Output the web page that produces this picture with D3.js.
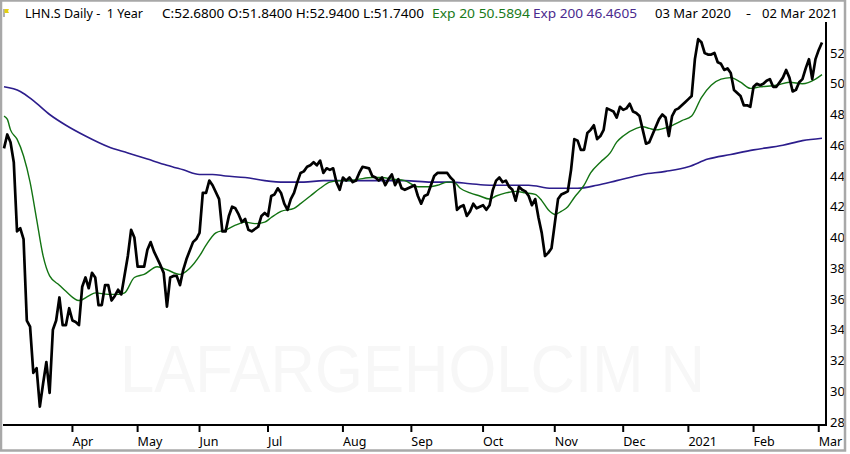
<!DOCTYPE html>
<html>
<head>
<meta charset="utf-8">
<script src="https://cdn.jsdelivr.net/npm/d3@7"></script>
<style>
  body { margin: 0; background: #fff; }
  svg { display: block; }
</style>
</head>
<body>
<div id="chart"></div>
<script>
// LHN.S daily closes, [trading day since 03 Mar 2020, close]
const closeSeries = [
  [0,45.8],[1,46.7],[2,46.2],[3,44.9],[4,40.4],[5,40.6],[6,39.9],[7,34.6],[8,34.2],[9,31.2],
  [10,31.5],[11,29.0],[12,30.5],[13,31.9],[14,29.9],[15,34.0],[16,34.6],[17,36.1],[18,34.3],[19,34.3],
  [20,35.4],[21,34.6],[22,34.5],[23,34.3],[24,36.8],[25,37.4],[26,36.7],[27,37.7],[28,37.4],[29,35.6],
  [30,35.6],[31,36.9],[32,36.9],[33,35.9],[34,36.2],[35,36.6],[36,36.3],[38,38.8],[39,40.5],[40,40.0],
  [41,38.1],[43,38.1],[44,39.2],[45,39.7],[46,39.1],[48,38.2],[49,37.7],[50,35.5],[51,37.4],[52,37.5],
  [53,37.5],[54,36.9],[55,37.9],[56,38.6],[58,39.7],[59,39.9],[60,40.3],[61,42.9],[62,42.9],[63,43.7],
  [64,43.4],[66,42.5],[67,40.4],[68,40.4],[69,41.4],[70,42.0],[71,41.9],[72,41.5],[73,41.0],[74,41.2],
  [75,40.5],[76,40.4],[78,40.7],[79,41.4],[80,41.6],[81,41.4],[82,42.7],[83,42.8],[84,43.2],[85,42.9],
  [86,42.2],[87,41.8],[88,42.5],[89,42.9],[90,43.6],[91,44.2],[92,44.3],[93,44.6],[94,44.7],[95,44.9],
  [96,44.7],[97,45.0],[98,44.2],[99,44.5],[100,44.4],[101,44.5],[102,43.6],[103,43.1],[104,43.9],[105,43.7],
  [106,43.9],[107,43.6],[108,43.7],[109,44.2],[110,44.6],[112,44.5],[113,44.0],[114,43.9],[115,43.7],[116,43.9],
  [117,43.4],[118,43.8],[119,44.1],[120,43.4],[121,43.8],[122,43.2],[123,43.1],[125,43.3],[126,43.4],[127,42.7],
  [128,42.2],[129,42.7],[130,42.8],[131,43.4],[132,44.0],[133,44.2],[134,44.2],[135,44.2],[136,44.2],[137,43.9],
  [138,43.7],[139,41.8],[140,42.0],[141,42.1],[142,41.4],[143,41.7],[144,42.2],[145,41.9],[146,42.0],[147,42.1],
  [148,41.8],[149,42.1],[150,43.1],[151,43.7],[152,43.9],[153,43.6],[154,43.7],[155,43.3],[156,43.1],[157,42.4],
  [158,43.3],[159,43.1],[160,43.0],[161,42.7],[162,42.1],[163,42.5],[164,41.3],[165,40.3],[166,38.8],[167,39.0],
  [168,39.3],[169,40.9],[170,42.5],[171,42.8],[172,42.9],[173,43.0],[174,44.4],[175,46.4],[176,46.3],[177,45.7],
  [178,45.7],[179,46.8],[180,47.0],[181,47.3],[182,46.4],[183,46.6],[184,47.0],[185,48.4],[186,48.3],[187,48.2],
  [188,47.8],[189,48.5],[190,48.3],[191,48.4],[192,48.7],[193,48.2],[194,48.1],[195,47.9],[196,47.0],[197,46.1],
  [198,46.2],[199,46.7],[200,47.2],[201,47.7],[202,48.0],[203,47.8],[204,46.6],[205,47.9],[206,48.3],[207,48.4],
  [208,48.6],[209,48.8],[210,49.0],[211,49.2],[212,51.6],[213,52.9],[214,52.7],[215,52.0],[216,51.9],[217,51.9],
  [218,52.0],[219,51.4],[220,51.3],[221,50.9],[222,51.0],[223,50.7],[224,49.6],[225,49.4],[226,49.2],[227,48.6],
  [228,48.6],[229,48.5],[230,49.8],[231,50.0],[232,49.9],[233,50.0],[234,50.2],[235,50.3],[236,49.8],[237,49.8],
  [238,50.1],[239,50.4],[240,50.9],[241,50.4],[242,49.5],[243,49.6],[244,50.1],[245,50.3],[246,51.0],[247,51.6],
  [248,50.3],[249,51.6],[250,52.2],[251,52.68]
];

// Exp 20 moving average
const ema20Series = [
  [0,47.9],[1,47.7],[2,47.0],[4,46.4],[6,45.3],[8,43.6],[10,41.2],[12,38.8],[14,37.5],[17,36.9],
  [19,36.5],[23,35.9],[26,36.2],[28,36.4],[32,36.3],[35,36.3],[37,36.4],[40,37.4],[43,37.6],[47,38.1],
  [50,37.9],[54,37.6],[57,38.0],[60,38.8],[62,39.5],[65,40.3],[68,40.5],[71,40.8],[74,41.0],[77,40.9],
  [80,41.0],[82,41.3],[85,41.7],[89,41.9],[91,42.2],[94,42.7],[97,43.2],[100,43.6],[103,43.7],[106,43.7],
  [109,43.8],[113,43.9],[116,43.9],[119,43.8],[123,43.7],[127,43.3],[130,43.3],[133,43.4],[136,43.6],[138,43.6],
  [140,43.2],[143,42.9],[146,42.7],[149,42.5],[151,42.7],[154,42.9],[157,43.0],[160,42.9],[163,42.8],[165,42.4],
  [167,41.8],[169,41.5],[171,41.7],[173,42.0],[175,42.6],[178,43.4],[180,44.2],[183,44.9],[186,45.5],[188,46.2],
  [190,46.6],[194,47.1],[196,47.2],[198,47.1],[200,47.0],[204,47.2],[208,47.6],[211,47.9],[214,49.1],[217,49.9],
  [220,50.3],[223,50.4],[226,50.1],[229,49.7],[232,49.8],[237,49.9],[241,50.1],[245,50.0],[249,50.3],[251,50.59]
];

// Exp 200 moving average
const ema200Series = [
  [0,49.8],[5,49.5],[9,48.9],[14,48.0],[19,47.3],[25,46.6],[32,45.9],[38,45.5],[44,45.1],[50,44.7],
  [55,44.4],[60,44.1],[64,44.1],[68,44.0],[74,43.9],[80,43.7],[86,43.6],[92,43.6],[98,43.7],[111,43.7],
  [123,43.7],[131,43.6],[137,43.6],[143,43.5],[149,43.4],[155,43.4],[161,43.4],[168,43.2],[172,43.2],[176,43.2],
  [182,43.4],[188,43.7],[196,44.1],[203,44.3],[210,44.6],[216,45.1],[223,45.4],[230,45.7],[239,46.0],[245,46.3],
  [251,46.46]
];

// first trading day of each month (index) and its label
const monthTickDays = [21, 41, 60, 81, 104, 125, 147, 169, 190, 210, 230, 250];
const monthLabels = ["Apr", "May", "Jun", "Jul", "Aug", "Sep", "Oct", "Nov", "Dec", "2021", "Feb", "Mar"];
const priceTicks = [28, 30, 32, 34, 36, 38, 40, 42, 44, 46, 48, 50, 52];

const width = 850, height = 454;
const plot = { left: 4, right: 826, top: 22, bottom: 425 };
const font = "'Noto Sans', 'DejaVu Sans', sans-serif";

const svg = d3.select("#chart").append("svg")
    .attr("width", width).attr("height", height);

svg.append("rect").attr("width", width).attr("height", height).attr("fill", "#fff");

const x = d3.scaleLinear().domain([0, 251]).range([4, 822]);
const y = d3.scaleLinear().domain([28, 52]).range([422, 53]);

// watermark
svg.append("text")
    .attr("x", 120).attr("y", 392)
    .attr("textLength", 585).attr("lengthAdjust", "spacingAndGlyphs")
    .style("font-family", "'Liberation Sans', Arial, sans-serif")
    .style("font-size", "66px")
    .attr("fill", "#f7f7f7")
    .text("LAFARGEHOLCIM N");

// Linee
const line = d3.line().x(d => x(d[0])).y(d => y(d[1]));
const smooth = d3.line().x(d => x(d[0])).y(d => y(d[1])).curve(d3.curveMonotoneX);

svg.append("path").datum(ema200Series).attr("d", smooth)
    .attr("fill", "none").attr("stroke", "#2c1d8c").attr("stroke-width", 1.6);
svg.append("path").datum(ema20Series).attr("d", smooth)
    .attr("fill", "none").attr("stroke", "#127312").attr("stroke-width", 1.4);
svg.append("path").datum(closeSeries).attr("d", line)
    .attr("fill", "none").attr("stroke", "#000").attr("stroke-width", 2.7)
    .attr("stroke-linejoin", "round");

// Assi
svg.append("line")
    .attr("x1", plot.right).attr("x2", plot.right)
    .attr("y1", plot.top).attr("y2", plot.bottom + 1)
    .attr("stroke", "#000").attr("stroke-width", 2);
svg.append("line")
    .attr("x1", plot.left - 1).attr("x2", plot.right + 1)
    .attr("y1", plot.bottom).attr("y2", plot.bottom)
    .attr("stroke", "#000").attr("stroke-width", 2);

svg.append("g").selectAll("text").data(priceTicks).enter().append("text")
    .attr("x", 830).attr("y", d => y(d))
    .attr("dy", "0.36em")
    .style("font-family", font).style("font-size", "13px")
    .attr("fill", "#000")
    .text(d => d);

const months = svg.append("g");
monthTickDays.forEach((d, i) => {
    const mx = x(d);
    months.append("line")
        .attr("x1", mx).attr("x2", mx).attr("y1", plot.bottom).attr("y2", plot.bottom + 7)
        .attr("stroke", "#000").attr("stroke-width", 2);
    months.append("text")
        .attr("x", mx).attr("y", 446)
        .style("font-family", font).style("font-size", "12.5px")
        .attr("fill", "#000")
        .text(monthLabels[i]);
});

// header
const header = svg.append("g").style("font-family", font).style("font-size", "13px");
const headerParts = [
    { t: "LHN.S Daily -  1 Year", x: 25, w: 118, c: "#000" },
    { t: "C:52.6800 O:51.8400 H:52.9400 L:51.7400", x: 162, w: 262, c: "#000" },
    { t: "Exp 20 50.5894", x: 432, w: 98, c: "#1a7a1a" },
    { t: "Exp 200 46.4605", x: 533, w: 104, c: "#4a2a8e" },
    { t: "03 Mar 2020", x: 655, w: 76, c: "#000" },
    { t: "-", x: 746, w: 5, c: "#000" },
    { t: "02 Mar 2021", x: 762, w: 76, c: "#000" }
];
headerParts.forEach(p => {
    header.append("text").attr("x", p.x).attr("y", 18)
        .attr("textLength", p.w).attr("lengthAdjust", "spacingAndGlyphs")
        .attr("fill", p.c).style("white-space", "pre")
        .text(p.t);
});

// flag icon
svg.append("line").attr("x1", 4).attr("x2", 4).attr("y1", 9).attr("y2", 17)
    .attr("stroke", "#666").attr("stroke-width", 1);
svg.append("path").attr("d", "M4.5,9 L9,9 L8,11 L9,13 L4.5,13 Z").attr("fill", "#e3cf12");

// frame
svg.append("rect").attr("x", 1).attr("y", 0.5).attr("width", 844).attr("height", 450)
    .attr("fill", "none").attr("stroke", "#a8a8a8").attr("stroke-width", 2.5);
</script>
</body>
</html>
